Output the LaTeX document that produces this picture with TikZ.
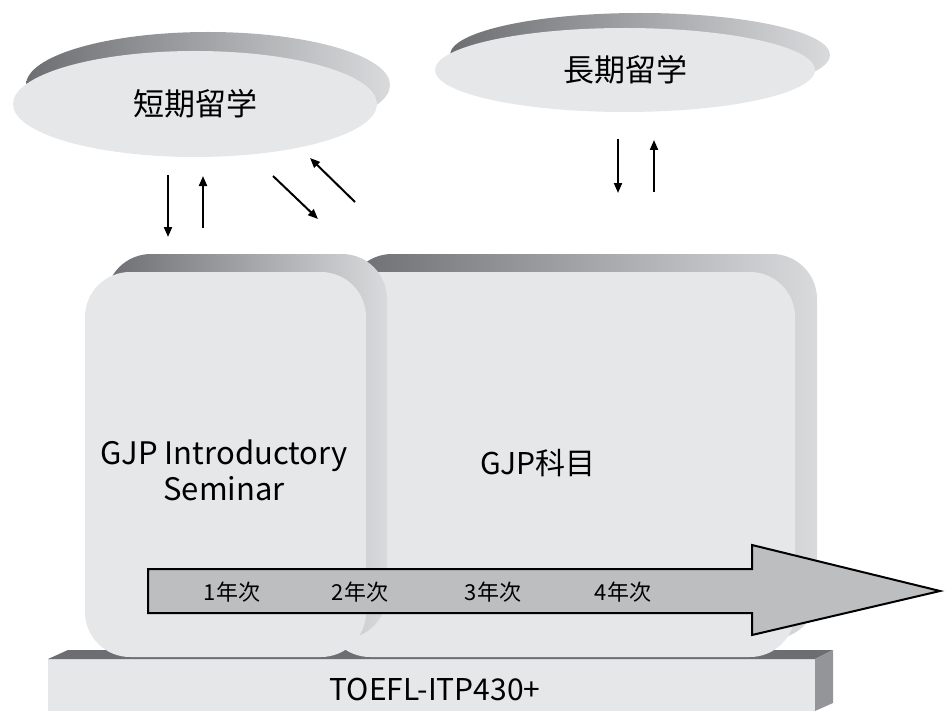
\documentclass[tikz,border=0pt]{standalone}
\usepackage{fontspec}
\setmainfont{Noto Sans CJK JP}
\usepackage{tikz}
\usetikzlibrary{shapes.geometric}
\usetikzlibrary{arrows.meta}
\usepackage{xcolor}
\definecolor{facegray}{HTML}{E6E7E9}
\definecolor{rimdark}{HTML}{6D6E71}
\definecolor{rimlight}{HTML}{D9DADC}
\definecolor{sidegray}{HTML}{939598}
\definecolor{bargray}{HTML}{BCBEC0}

\begin{document}
\begin{tikzpicture}[x=0.5pt, y=-0.5pt,
    disc/.style={ellipse, fill=facegray, inner sep=0pt, font=\fontsize{15.5}{18}\selectfont},
    rim/.style={ellipse, left color=rimdark, right color=rimlight, inner sep=0pt},
    card/.style={rectangle, rounded corners=22.5pt, fill=facegray, inner sep=0pt},
    cardrim/.style={rectangle, rounded corners=22.5pt, left color=rimdark, right color=rimlight, inner sep=0pt},
    label/.style={font=\fontsize{15.5}{18}\selectfont, align=center},
    flow/.style={-{Triangle[length=5pt,width=4pt]}, line width=1pt},
    year/.style={font=\fontsize{11}{13}\selectfont}]
    \useasboundingbox (0,0) rectangle (945,711);

    % Base block
    \fill[facegray] (48,659) rectangle (815,711);
    \fill[rimdark] (48,659) -- (68,650) -- (833,650) -- (815,659) -- cycle;
    \fill[sidegray] (815,659) -- (833,650) -- (833,703) -- (815,711) -- cycle;
    \node (toefl) [label, font=\fontsize{15}{18}\selectfont] at (435,689) {TOEFL-ITP430+};

    % Course blocks
    \node (main back) [cardrim, minimum width=235pt, minimum height=192.5pt] at (582,446.5) {};
    \node (main) [card, minimum width=235pt, minimum height=192.5pt] at (560,464.5) {};
    \node (intro back) [cardrim, minimum width=140.5pt, minimum height=192.5pt] at (246.5,446.5) {};
    \node (intro) [card, minimum width=140.5pt, minimum height=192.5pt] at (225.5,464.5) {};
    \node (intro text) [label] at (224,470) {GJP Introductory\\Seminar};
    \node (main text) [label, font=\fontsize{15}{18}\selectfont] at (538,463) {GJP科目};

    % Study abroad discs
    \node (short back) [rim, minimum width=182pt, minimum height=53pt] at (208,85) {};
    \node (short) [disc, minimum width=182pt, minimum height=53pt] at (195,104) {短期留学};
    \node (long back) [rim, minimum width=190pt, minimum height=42pt] at (640,55) {};
    \node (long) [disc, minimum width=190pt, minimum height=42pt] at (625,70) {長期留学};

    % Timeline arrow
    \draw[fill=bargray, line width=1pt] (148,569) -- (752,569) -- (752,545) -- (940,591)
        -- (752,635) -- (752,613) -- (148,613) -- cycle;
    \node (y1) [year] at (232,592) {1年次};
    \node (y2) [year] at (360,592) {2年次};
    \node (y3) [year] at (493,592) {3年次};
    \node (y4) [year] at (623,592) {4年次};

    % Exchange arrows
    \coordinate (sd1) at (168,175);  \coordinate (sd2) at (168,237);
    \coordinate (su1) at (203,228);  \coordinate (su2) at (203,176);
    \coordinate (dd1) at (273,176);  \coordinate (dd2) at (318,219);
    \coordinate (du1) at (355,202);  \coordinate (du2) at (310,158);
    \coordinate (ld1) at (618,139);  \coordinate (ld2) at (618,193);
    \coordinate (lu1) at (654,192);  \coordinate (lu2) at (654,140);
    \draw[flow] (sd1) -- (sd2);
    \draw[flow] (su1) -- (su2);
    \draw[flow] (dd1) -- (dd2);
    \draw[flow] (du1) -- (du2);
    \draw[flow] (ld1) -- (ld2);
    \draw[flow] (lu1) -- (lu2);
\end{tikzpicture}
\end{document}
